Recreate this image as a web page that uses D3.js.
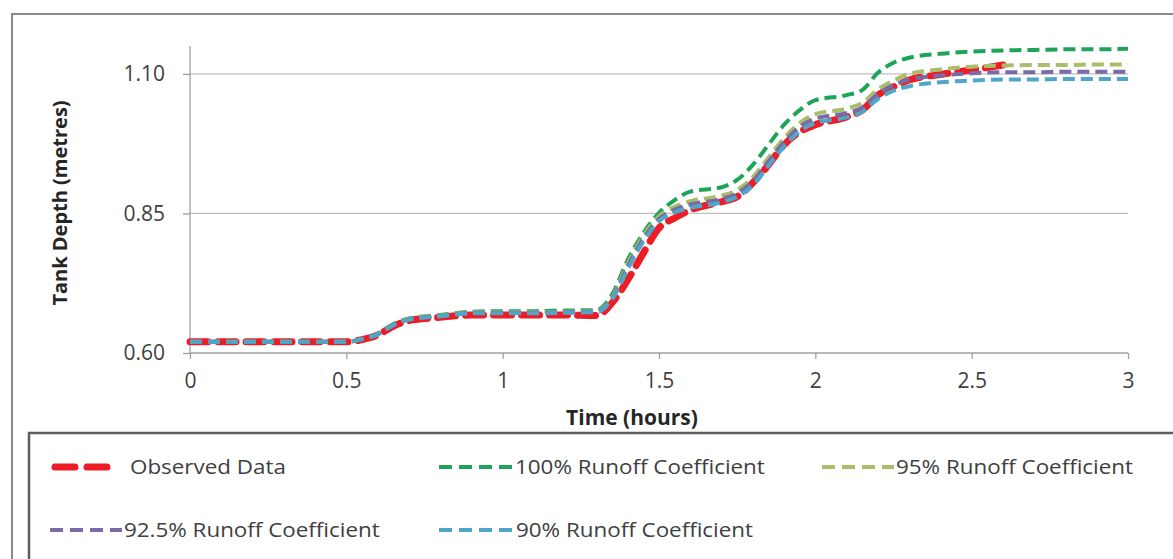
<!DOCTYPE html>
<html><head><meta charset="utf-8">
<script src="https://cdn.jsdelivr.net/npm/d3@7"></script>
<style>body{margin:0;background:#fff}svg{display:block}text{font-family:"Open Sans",sans-serif}</style>
</head><body><svg id="c" width="1173" height="559"></svg>
<script>
const times = [0,0.25,0.5,0.55,0.6,0.65,0.7,0.8,0.9,1.0,1.1,1.2,1.3,1.35,1.4,1.45,1.5,1.55,1.6,1.7,1.75,1.8,1.85,1.9,1.95,2.0,2.1,2.15,2.2,2.25,2.3,2.4,2.5,2.6,2.7,2.8,2.9,3.0];
const observed = [0.62,0.62,0.62,0.624,0.632,0.648,0.658,0.664,0.668,0.668,0.668,0.668,0.667,0.69,0.731,0.779,0.824,0.842,0.856,0.871,0.88,0.905,0.937,0.973,0.996,1.009,1.023,1.035,1.062,1.077,1.089,1.099,1.107,1.116];
const rc100 = [0.62,0.62,0.62,0.625,0.635,0.652,0.662,0.668,0.674,0.675,0.675,0.676,0.677,0.705,0.767,0.815,0.851,0.874,0.889,0.897,0.91,0.937,0.973,1.009,1.035,1.053,1.062,1.071,1.102,1.12,1.129,1.136,1.14,1.142,1.143,1.144,1.144,1.145];
const rc95 = [0.62,0.62,0.62,0.625,0.634,0.651,0.661,0.667,0.673,0.673,0.673,0.674,0.675,0.7,0.76,0.81,0.845,0.862,0.872,0.882,0.892,0.915,0.95,0.985,1.012,1.028,1.038,1.048,1.072,1.088,1.1,1.108,1.113,1.115,1.116,1.116,1.117,1.117];
const rc925 = [0.62,0.62,0.62,0.625,0.634,0.65,0.66,0.666,0.672,0.672,0.672,0.673,0.674,0.698,0.755,0.805,0.84,0.857,0.866,0.876,0.886,0.908,0.943,0.978,1.005,1.02,1.03,1.04,1.064,1.08,1.09,1.097,1.101,1.103,1.103,1.104,1.104,1.104];
const rc90 = [0.62,0.62,0.62,0.625,0.633,0.65,0.66,0.666,0.671,0.671,0.671,0.672,0.673,0.696,0.75,0.8,0.836,0.852,0.86,0.87,0.88,0.9,0.935,0.97,0.997,1.012,1.022,1.032,1.055,1.07,1.078,1.085,1.088,1.09,1.09,1.091,1.091,1.091];
const seriesNames = ["Observed Data","100% Runoff Coefficient","95% Runoff Coefficient","92.5% Runoff Coefficient","90% Runoff Coefficient"];
const xTicks = [0,0.5,1,1.5,2,2.5,3];
const yTicks = [0.60,0.85,1.10];

const svg = d3.select("#c");
const x = d3.scaleLinear().domain([0,3]).range([190,1128]);
const y = d3.scaleLinear().domain([0.6,1.15]).range([353,46]);

// outer chart frame
svg.append("rect").attr("x",12).attr("y",14).attr("width",1200).attr("height",600)
  .attr("fill","#fff").attr("stroke","#8a8a8a").attr("stroke-width",2);

// gridlines
svg.append("g").selectAll("line").data(yTicks.slice(1)).join("line")
  .attr("x1",x(0)).attr("x2",x(3)).attr("y1",d=>y(d)).attr("y2",d=>y(d))
  .attr("stroke","#c0c0c0").attr("stroke-width",1.3);

// y axis
const ya = svg.append("g").attr("transform",`translate(${x(0)},0)`)
  .call(d3.axisLeft(y).tickValues(yTicks).tickFormat(d3.format(".2f")).tickSize(7).tickPadding(18));
ya.select(".domain").attr("stroke","#a0a0a0").attr("stroke-width",1.3).attr("d",`M-0,${y(1.15)}V${y(0.6)}`);
ya.selectAll(".tick line").attr("stroke","#a0a0a0").attr("stroke-width",1.3);
ya.selectAll("text").attr("font-size",21).attr("fill","#404040").attr("font-family","Open Sans");

// x axis
const xa = svg.append("g").attr("transform",`translate(0,${y(0.6)})`)
  .call(d3.axisBottom(x).tickValues(xTicks).tickFormat(d=>String(d)).tickSize(6).tickPadding(14));
xa.select(".domain").attr("stroke","#a0a0a0").attr("stroke-width",1.3).attr("d",`M${x(0)},0H${x(3)}`);
xa.selectAll(".tick line").attr("stroke","#a0a0a0").attr("stroke-width",1.3);
xa.selectAll("text").attr("font-size",21).attr("fill","#404040").attr("font-family","Open Sans");

// axis titles
svg.append("text").attr("x",632).attr("y",425).attr("text-anchor","middle")
  .attr("font-size",21).attr("font-weight","bold").attr("fill","#262626").text("Time (hours)");
svg.append("text").attr("transform","translate(67,203) rotate(-90)").attr("text-anchor","middle")
  .attr("font-size",20).attr("font-weight","bold").attr("fill","#262626").text("Tank Depth (metres)");

const styles = [
  {c:"#ee1c25", w:7, dash:"18,10"},
  {c:"#1ea35a", w:4, dash:"12,6"},
  {c:"#a9bd6a", w:4, dash:"12,6"},
  {c:"#7a6aa8", w:4, dash:"12,6"},
  {c:"#4ea7c8", w:4, dash:"12,6"}
];
const allSeries = [observed, rc100, rc95, rc925, rc90];
const line = d3.line().x(d=>x(d[0])).y(d=>y(d[1])).curve(d3.curveMonotoneX);
allSeries.forEach((vals,i)=>{
  const pts = vals.map((v,j)=>[times[j],v]);
  svg.append("path").datum(pts).attr("d",line).attr("fill","none")
    .attr("stroke",styles[i].c).attr("stroke-width",styles[i].w)
    .attr("stroke-dasharray",styles[i].dash).attr("stroke-linecap",i===0?"round":"butt");
});

// legend
svg.append("rect").attr("x",29).attr("y",433).attr("width",1200).attr("height",200)
  .attr("fill","#fff").attr("stroke","#5e5e5e").attr("stroke-width",2.5);
const legPos = [
  {lx:55, lx2:112, tx:130, ty:467},
  {lx:439, lx2:513, tx:515, ty:467},
  {lx:822, lx2:894, tx:896, ty:467},
  {lx:50, lx2:122, tx:124, ty:530},
  {lx:439, lx2:513, tx:516, ty:530}
];
seriesNames.forEach((n,i)=>{
  const p = legPos[i];
  svg.append("line").attr("x1",p.lx).attr("x2",p.lx2).attr("y1",p.ty).attr("y2",p.ty)
    .attr("stroke",styles[i].c).attr("stroke-width",styles[i].w)
    .attr("stroke-dasharray",i===0?"20,12":"13,7").attr("stroke-linecap",i===0?"round":"butt");
  svg.append("text").attr("transform",`translate(${p.tx},${p.ty}) scale(1.12,1)`).attr("dy","0.35em")
    .attr("font-size",20).attr("fill","#404040").text(n);
});
</script></body></html>
